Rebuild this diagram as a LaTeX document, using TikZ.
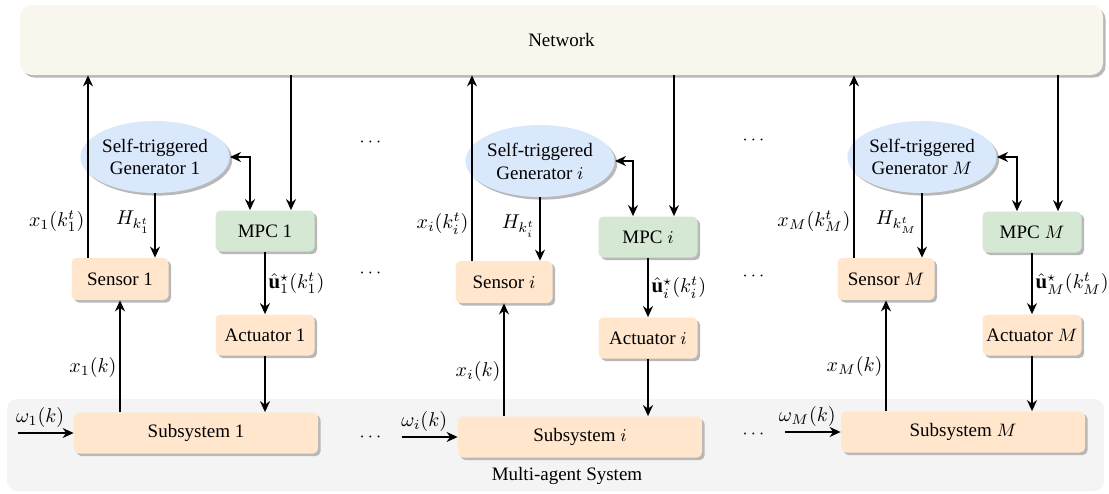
\documentclass[tikz,border=0pt]{standalone}
\usepackage{fontspec}
\setmainfont{Liberation Serif}
\usepackage{amsmath,amssymb}
\usetikzlibrary{shapes.geometric,shadows,arrows.meta}
\definecolor{netfill}{HTML}{F9F6EE}
\definecolor{masfill}{HTML}{F4F4F4}
\definecolor{orfill}{HTML}{FFE6CC}
\definecolor{grfill}{HTML}{D5E8D4}
\definecolor{blfill}{HTML}{DAE8FC}
\begin{document}
\begin{tikzpicture}[x=0.5pt,y=-0.5pt,
  font=\fontsize{9.5}{11.4}\selectfont,
  shad/.style={drop shadow={shadow xshift=1.3pt,shadow yshift=-1.3pt,fill=black!28,opacity=1}},
  obox/.style={rectangle,rounded corners=2.5pt,fill=orfill,inner sep=0pt,shad},
  gbox/.style={rectangle,rounded corners=2.5pt,fill=grfill,inner sep=0pt,shad},
  sensorbox/.style={obox,minimum width=48.5pt,minimum height=21pt},
  actbox/.style={obox,minimum width=49.5pt,minimum height=20.5pt},
  subbox/.style={obox,minimum width=122pt,minimum height=20.5pt},
  mpcbox/.style={gbox,minimum width=49.5pt,minimum height=20.5pt},
  gen/.style={ellipse,fill=blfill,inner sep=0pt,minimum width=62.5pt,minimum height=36pt,align=center,shad},
  arr/.style={-{Stealth[length=5.5pt,width=5pt]},line width=0.65pt},
  darr/.style={{Stealth[length=5.5pt,width=5pt]}-{Stealth[length=5.5pt,width=5pt]},line width=0.65pt},
  lbl/.style={inner sep=1.5pt,font=\fontsize{10.4}{12}\selectfont}
]
\useasboundingbox (0,0) rectangle (1109,493);
% background boxes
\node[rectangle,rounded corners=5pt,fill=masfill,minimum width=548.5pt,minimum height=46pt,inner sep=0pt] (mas) at (555.5,445) {};
\node (mastext) at (567,476) {Multi-agent System};
\node[rectangle,rounded corners=6pt,fill=netfill,minimum width=541.5pt,minimum height=35pt,inner sep=0pt,shad] (net) at (561.5,40) {Network};

% ---------- column 1 ----------
\node[gen] (e1) at (155,157) {Self-triggered\\Generator 1};
\node[sensorbox] (s1) at (120,279) {Sensor 1};
\node[mpcbox] (m1) at (265,231) {MPC 1};
\node[actbox] (a1) at (265,335) {Actuator 1};
\node[subbox] (u1) at (196,433) {Subsystem 1};
\coordinate (w1) at (18,433);

% ---------- column i ----------
\node[gen] (ei) at (540,161) {Self-triggered\\Generator $i$};
\node[sensorbox] (si) at (504,282) {Sensor $i$};
\node[mpcbox] (mi) at (648,237) {MPC $i$};
\node[actbox] (ai) at (648,338) {Actuator $i$};
\node[subbox] (ui) at (580,437) {Subsystem $i$};
\coordinate (wi) at (402,437);

% ---------- column M ----------
\node[gen] (eM) at (922,157) {Self-triggered\\Generator $M$};
\node[sensorbox] (sM) at (886,279) {Sensor $M$};
\node[mpcbox] (mM) at (1032,232) {MPC $M$};
\node[actbox] (aM) at (1032,335) {Actuator $M$};
\node[subbox] (uM) at (963,432) {Subsystem $M$};
\coordinate (wM) at (785,432);

% dots
\node (d1) at (372,142) {$\cdots$};
\node (d2) at (372,273) {$\cdots$};
\node (d3) at (372,437) {$\cdots$};
\node (d4) at (755,140) {$\cdots$};
\node (d5) at (755,276) {$\cdots$};
\node (d6) at (755,434) {$\cdots$};

% ---------- connectors ----------
\foreach \c/\lab/\hlab/\ulab/\klab/\wlab in {
  1/{x_1(k_1^t)}/{H_{k_1^t}}/{\hat{\mathbf{u}}_1^{\star}(k_1^t)}/{x_1(k)}/{\omega_1(k)},
  i/{x_i(k_i^t)}/{H_{k_i^t}}/{\hat{\mathbf{u}}_i^{\star}(k_i^t)}/{x_i(k)}/{\omega_i(k)},
  M/{x_M(k_M^t)}/{H_{k_M^t}}/{\hat{\mathbf{u}}_M^{\star}(k_M^t)}/{x_M(k)}/{\omega_M(k)}}{
  % sensor -> network
  \draw[arr] ([xshift=-16pt]s\c.north) -- ([xshift=-16pt]s\c.north |- net.south)
     node[lbl,left,pos=0.2] {$\lab$};
  % generator -> sensor
  \draw[arr] (e\c.south) -- (e\c.south |- s\c.north)
     node[lbl,left,pos=0.45,inner sep=2.2pt] {$\hlab$};
  % network -> MPC
  \draw[arr] ([xshift=13pt]m\c.north |- net.south) -- ([xshift=13pt]m\c.north);
  % generator <-> MPC
  \draw[darr] (e\c.east) -| ([xshift=-7.5pt]m\c.north);
  % MPC -> actuator
  \draw[arr] (m\c.south) -- (a\c.north) node[lbl,right,midway] {$\ulab$};
  % actuator -> subsystem
  \draw[arr] (a\c.south) -- (a\c.south |- u\c.north);
  % subsystem -> sensor
  \draw[arr] (u\c.north -| s\c) -- (s\c.south) node[lbl,left,pos=0.4] {$\klab$};
  % disturbance
  \draw[arr] (w\c) -- (u\c.west) node[lbl,above,pos=0.4,yshift=1pt] {$\wlab$};
}
\end{tikzpicture}
\end{document}
